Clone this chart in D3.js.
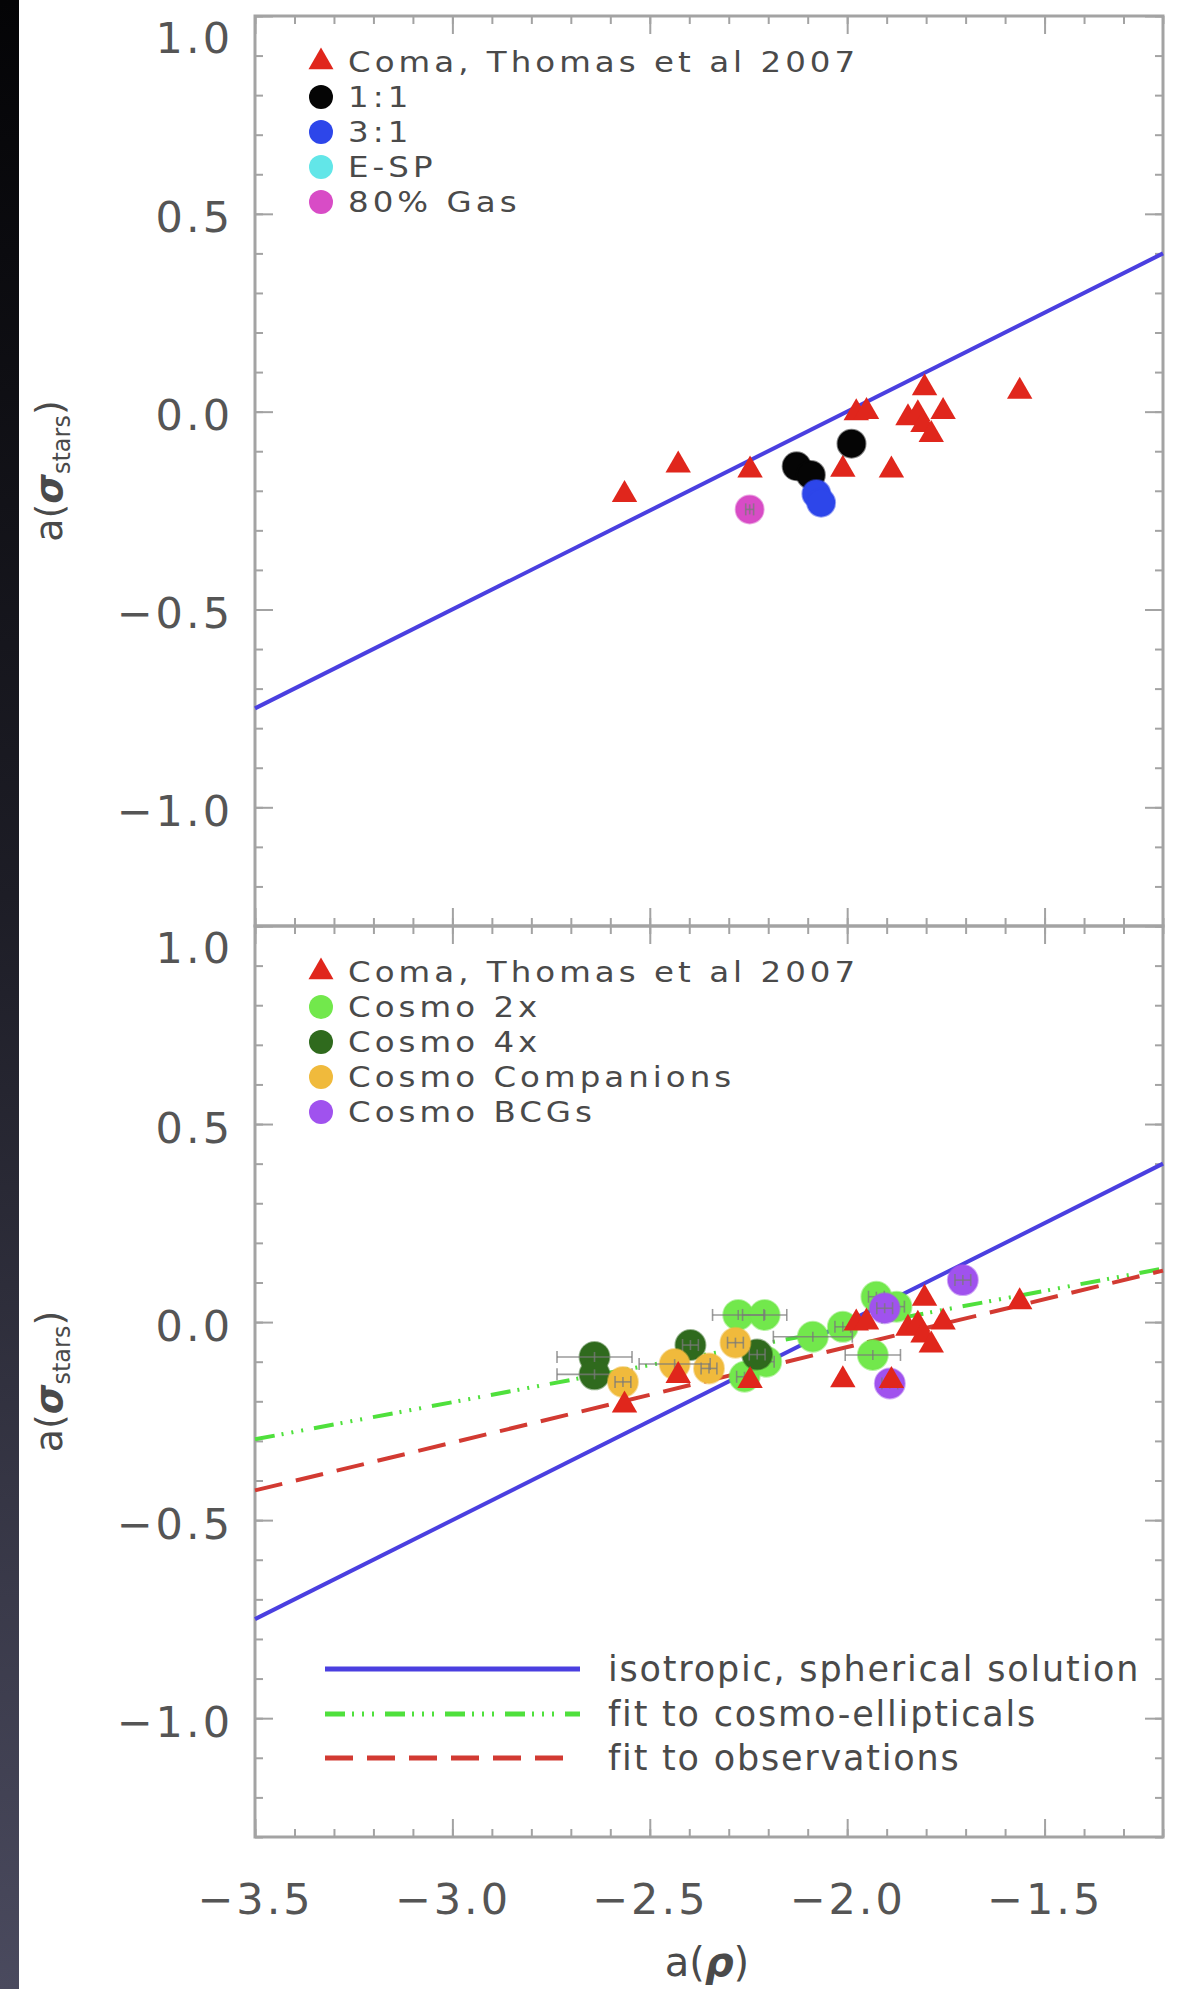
<!DOCTYPE html>
<html><head><meta charset="utf-8">
<script src="https://cdn.jsdelivr.net/npm/d3@7"></script>
<style>body{margin:0;background:#fff} svg{display:block}</style>
</head><body>
<svg id="c" width="1184" height="1989"></svg>
<script>
// ---------- data ----------
const xTicks = [-3.5, -3.0, -2.5, -2.0, -1.5];
const xTickLabels = ["−3.5", "−3.0", "−2.5", "−2.0", "−1.5"];
const yTicks = [1.0, 0.5, 0.0, -0.5, -1.0];
const yTickLabels = ["1.0", "0.5", "0.0", "−0.5", "−1.0"];

// Coma, Thomas et al 2007
const comaX = [-2.564, -2.428, -2.246, -2.011, -1.977, -1.951, -1.888, -1.846, -1.821, -1.804, -1.808, -1.787, -1.757, -1.563];
const comaY = [-0.210, -0.135, -0.148, -0.146, -0.003, 0.000, -0.148, -0.016, -0.006, 0.060, -0.033, -0.058, 0.000, 0.051];

// top panel: merger simulations
const r11X = [-2.128, -2.092, -1.989];
const r11Y = [-0.138, -0.160, -0.081];
const r31X = [-2.078, -2.066];
const r31Y = [-0.208, -0.230];
const espX = [];
const espY = [];
const gasX = [-2.247];
const gasY = [-0.247];

// bottom panel: cosmological simulations
const c2X = [-2.276, -2.209, -2.205, -2.260, -2.087, -2.011, -1.926, -1.875, -1.935];
const c2Y = [0.018, 0.018, -0.100, -0.138, -0.037, -0.012, 0.064, 0.039, -0.083];
const c2XErr = [0.065, 0.056, 0.02, 0.02, 0.10, 0.02, 0.02, 0.02, 0.07];
const c4X = [-2.640, -2.640, -2.397, -2.228];
const c4Y = [-0.088, -0.132, -0.058, -0.082];
const c4XErr = [0.095, 0.095, 0.02, 0.02];
const compX = [-2.568, -2.437, -2.350, -2.283];
const compY = [-0.151, -0.106, -0.117, -0.052];
const compXErr = [0.02, 0.09, 0.02, 0.02];
const bcgX = [-1.707, -1.905, -1.892];
const bcgY = [0.106, 0.035, -0.155];
const bcgXErr = [0.02, 0.02, 0.02];

// fitted / model lines (endpoints)
const isoX = [-3.5, -1.2];
const isoY = [-0.75, 0.40];
const cosmoFitX = [-3.5, -1.2];
const cosmoFitY = [-0.296, 0.135];
const obsFitX = [-3.5, -1.2];
const obsFitY = [-0.425, 0.130];

const topLegend = ["Coma, Thomas et al 2007", "1:1", "3:1", "E-SP", "80% Gas"];
const botLegend = ["Coma, Thomas et al 2007", "Cosmo 2x", "Cosmo 4x", "Cosmo Companions", "Cosmo BCGs"];
const lineLegend = ["isotropic, spherical solution", "fit to cosmo-ellipticals", "fit to observations"];

// ---------- styles ----------
const C = {
  coma: "#e0261c", r11: "#050505", r31: "#2d46ea", esp: "#62e6e8", gas: "#d84cc6",
  c2: "#72e84c", c4: "#2f6a1d", comp: "#f0ba3c", bcg: "#a052ee",
  iso: "#4a3fe0", cfit: "#4fe03c", ofit: "#d23a32",
  frame: "#a3a3a3", text: "#4a4a4a"
};
const FONT = "DejaVu Sans";

const svg = d3.select("#c");
// dark strip on the left
const defs = svg.append("defs");
const g0 = defs.append("linearGradient").attr("id", "strip").attr("x1", 0).attr("y1", 0).attr("x2", 0).attr("y2", 1);
g0.append("stop").attr("offset", "0%").attr("stop-color", "#040406");
g0.append("stop").attr("offset", "45%").attr("stop-color", "#1d1d26");
g0.append("stop").attr("offset", "100%").attr("stop-color", "#4a4a5e");
svg.append("rect").attr("x", 0).attr("y", 0).attr("width", 19).attr("height", 1989).attr("fill", "url(#strip)");

const x = d3.scaleLinear().domain([-3.5, -1.2]).range([255, 1163]);
const panels = [
  { y: d3.scaleLinear().domain([-1.3, 1.0]).range([926, 16]), top: 16, bottom: 926, showX: false },
  { y: d3.scaleLinear().domain([-1.3, 1.0]).range([1837, 926]), top: 926, bottom: 1837, showX: true }
];
const minorX = d3.range(-3.5, -1.2 + 1e-9, 0.1).map(v => +v.toFixed(2));
const minorY = d3.range(-1.3, 1.0 + 1e-9, 0.1).map(v => +v.toFixed(2));

function drawAxes(p) {
  const y = p.y;
  const left = x.range()[0], right = x.range()[1];
  const ax = svg.append("g");
  const mk = (axisFn, scale, vals, size, tx, ty) => {
    const g = ax.append("g").attr("transform", `translate(${tx},${ty})`)
      .call(axisFn(scale).tickValues(vals).tickSize(size).tickFormat(""));
    g.select(".domain").remove();
    g.selectAll("line").attr("stroke", C.frame).attr("stroke-width", 2);
    return g;
  };
  mk(d3.axisLeft, y, minorY, -8, left, 0);
  mk(d3.axisRight, y, minorY, -8, right, 0);
  mk(d3.axisTop, x, minorX, -8, 0, p.top);
  mk(d3.axisBottom, x, minorX, -8, 0, p.bottom);
  mk(d3.axisLeft, y, yTicks, -18, left, 0);
  mk(d3.axisRight, y, yTicks, -18, right, 0);
  mk(d3.axisTop, x, xTicks, -18, 0, p.top);
  mk(d3.axisBottom, x, xTicks, -18, 0, p.bottom);
  const gl = ax.append("g").attr("transform", `translate(${left},0)`)
    .call(d3.axisLeft(y).tickValues(yTicks).tickSize(0).tickPadding(22)
      .tickFormat((d, i) => yTickLabels[i]));
  gl.select(".domain").remove();
  gl.selectAll("text").attr("font-family", FONT).attr("font-size", 43).attr("letter-spacing", 3)
    .attr("fill", "#555").attr("dy", d => d === 1.0 ? "0.85em" : "0.42em");
  if (p.showX) {
    const gx = ax.append("g").attr("transform", `translate(0,${p.bottom})`)
      .call(d3.axisBottom(x).tickValues(xTicks).tickSize(0).tickPadding(46)
        .tickFormat((d, i) => xTickLabels[i]));
    gx.select(".domain").remove();
    gx.selectAll("text").attr("font-family", FONT).attr("font-size", 43).attr("letter-spacing", 3)
      .attr("fill", "#555");
  }
  ax.append("rect").attr("x", left).attr("y", p.top).attr("width", right - left).attr("height", p.bottom - p.top)
    .attr("fill", "none").attr("stroke", C.frame).attr("stroke-width", 3);
}

function line(p, xs, ys, color, dash, width) {
  const gen = d3.line().x(d => x(d[0])).y(d => p.y(d[1]));
  svg.append("path").datum(xs.map((v, i) => [v, ys[i]])).attr("d", gen)
    .attr("fill", "none").attr("stroke", color).attr("stroke-width", width || 4)
    .attr("stroke-dasharray", dash || null);
}
function tri(p, xs, ys, color) {
  const sym = d3.symbol().type(d3.symbolTriangle).size(280);
  svg.append("g").selectAll("path").data(xs.map((v, i) => [v, ys[i]])).join("path")
    .attr("d", sym).attr("transform", d => `translate(${x(d[0])},${p.y(d[1])})`)
    .attr("fill", color);
}
function dots(p, xs, ys, color, xerr, r) {
  const data = xs.map((v, i) => [v, ys[i], xerr ? xerr[i] : 0]);
  const g = svg.append("g");
  g.selectAll("circle").data(data).join("circle")
    .attr("cx", d => x(d[0])).attr("cy", d => p.y(d[1])).attr("r", r || 14)
    .attr("fill", color).attr("stroke", color).attr("stroke-opacity", 0.5).attr("stroke-width", 2);
  if (xerr) {
    const eg = g.append("g").attr("stroke", "#7a7a7a").attr("stroke-opacity", 0.75).attr("stroke-width", 1.6);
    data.forEach(d => {
      const cx = x(d[0]), cy = p.y(d[1]), x0 = x(d[0] - d[2]), x1 = x(d[0] + d[2]);
      eg.append("line").attr("x1", x0).attr("x2", x1).attr("y1", cy).attr("y2", cy);
      eg.append("line").attr("x1", x0).attr("x2", x0).attr("y1", cy - 6).attr("y2", cy + 6);
      eg.append("line").attr("x1", x1).attr("x2", x1).attr("y1", cy - 6).attr("y2", cy + 6);
      eg.append("line").attr("x1", cx).attr("x2", cx).attr("y1", cy - 5).attr("y2", cy + 5);
    });
  }
}
function legendMarkers(items, top) {
  const g = svg.append("g");
  items.forEach((it, i) => {
    const cy = top + 46 + 35 * i;
    if (it.tri) {
      g.append("path").attr("d", d3.symbol().type(d3.symbolTriangle).size(270)())
        .attr("transform", `translate(321,${cy})`).attr("fill", it.color);
    } else {
      g.append("circle").attr("cx", 321).attr("cy", cy).attr("r", 12).attr("fill", it.color);
    }
    g.append("text").attr("transform", `translate(348,${cy}) scale(1.12,1)`).attr("dy", "0.36em").text(it.label)
      .attr("font-family", FONT).attr("font-size", 29).attr("letter-spacing", 3.6).attr("fill", C.text);
  });
}

// ---------- top panel ----------
const P1 = panels[0];
drawAxes(P1);
line(P1, isoX, isoY, C.iso, null, 4);
tri(P1, comaX, comaY, C.coma);
dots(P1, gasX, gasY, C.gas, [0.01], 14);
dots(P1, espX, espY, C.esp, null, 14);
dots(P1, r11X, r11Y, C.r11, null, 14);
dots(P1, r31X, r31Y, C.r31, null, 14);
legendMarkers([
  { label: topLegend[0], color: C.coma, tri: true },
  { label: topLegend[1], color: C.r11 },
  { label: topLegend[2], color: C.r31 },
  { label: topLegend[3], color: C.esp },
  { label: topLegend[4], color: C.gas }
], P1.top);

// ---------- bottom panel ----------
const P2 = panels[1];
drawAxes(P2);
const dashCosmo = "20,7,2,8,2,8,2,11";
const dashObs = "28,14";
line(P2, isoX, isoY, C.iso, null, 4);
line(P2, cosmoFitX, cosmoFitY, C.cfit, dashCosmo, 4);
line(P2, obsFitX, obsFitY, C.ofit, dashObs, 4);
dots(P2, c2X, c2Y, C.c2, c2XErr, 15);
dots(P2, c4X, c4Y, C.c4, c4XErr, 15);
dots(P2, compX, compY, C.comp, compXErr, 15);
dots(P2, bcgX, bcgY, C.bcg, bcgXErr, 15);
tri(P2, comaX, comaY, C.coma);
legendMarkers([
  { label: botLegend[0], color: C.coma, tri: true },
  { label: botLegend[1], color: C.c2 },
  { label: botLegend[2], color: C.c4 },
  { label: botLegend[3], color: C.comp },
  { label: botLegend[4], color: C.bcg }
], P2.top);

// line legend
const ll = svg.append("g");
[[C.iso, null], [C.cfit, dashCosmo], [C.ofit, dashObs]].forEach((s, i) => {
  const yy = [1669, 1714, 1758][i];
  ll.append("line").attr("x1", 325).attr("x2", i === 2 ? 566 : 580).attr("y1", yy).attr("y2", yy)
    .attr("stroke", s[0]).attr("stroke-width", 5).attr("stroke-dasharray", s[1]);
  ll.append("text").attr("x", 608).attr("y", yy).attr("dy", "0.33em").text(lineLegend[i])
    .attr("font-family", FONT).attr("font-size", 35).attr("letter-spacing", 1.8).attr("fill", C.text);
});

// ---------- axis titles ----------
function yTitle(cy) {
  const t = svg.append("text").attr("transform", `translate(62,${cy}) rotate(-90)`)
    .attr("text-anchor", "middle").attr("font-family", FONT).attr("font-size", 38).attr("fill", C.text);
  t.append("tspan").text("a(");
  t.append("tspan").text("σ").attr("font-style", "italic").attr("font-weight", "bold");
  t.append("tspan").text("stars").attr("font-size", 24).attr("dy", 8);
  t.append("tspan").text(")").attr("dy", -8);
}
yTitle((P1.top + P1.bottom) / 2);
yTitle((P2.top + P2.bottom) / 2);
const xt = svg.append("text").attr("x", 707).attr("y", 1976).attr("text-anchor", "middle")
  .attr("font-family", FONT).attr("font-size", 40).attr("fill", C.text);
xt.append("tspan").text("a(");
xt.append("tspan").text("ρ").attr("font-style", "italic").attr("font-weight", "bold");
xt.append("tspan").text(")");
</script>
</body></html>
